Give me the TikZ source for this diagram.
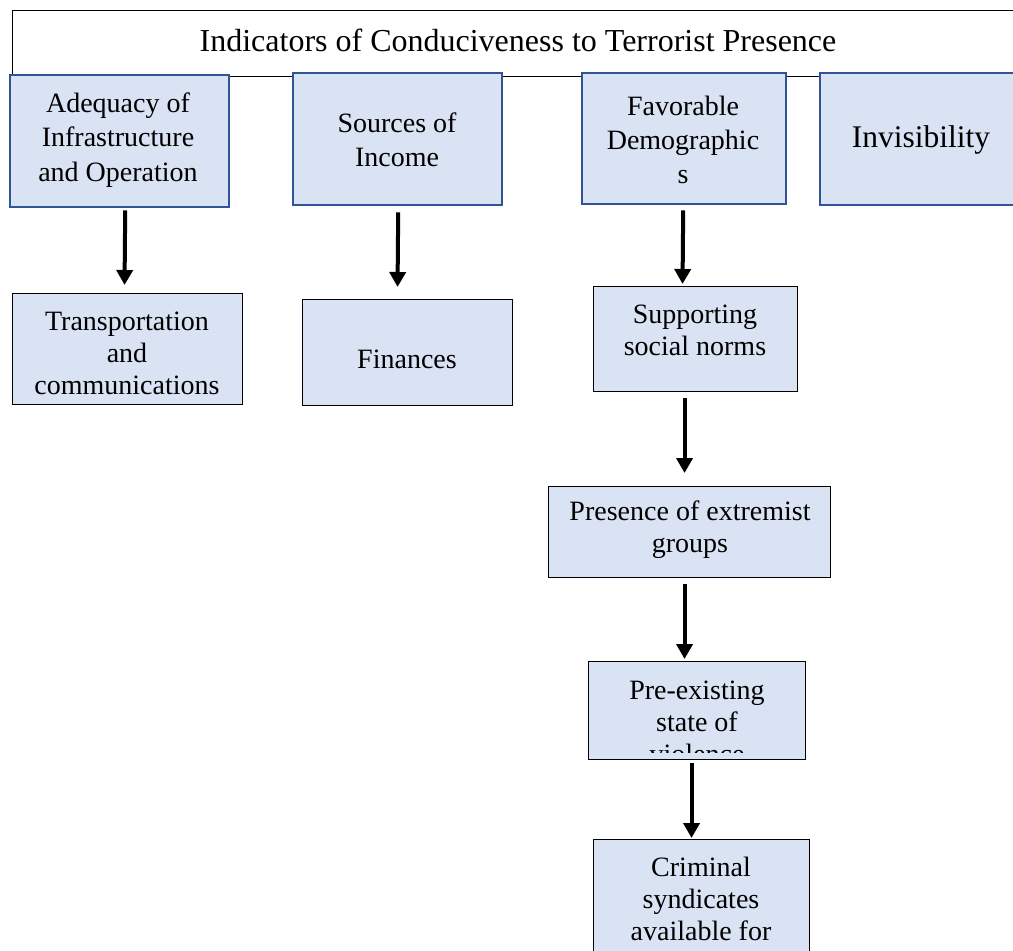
\documentclass[tikz,border=0pt]{standalone}
\usepackage{fontspec}
\setmainfont{Liberation Serif}
\usetikzlibrary{arrows.meta}
\definecolor{boxfill}{HTML}{DAE3F3}
\definecolor{boxblue}{HTML}{2F5597}
\tikzset{
  topbox/.style={draw=boxblue, line width=2.4pt, fill=boxfill, anchor=north west, inner sep=0pt},
  subbox/.style={draw=black, line width=1.1pt, fill=boxfill, anchor=north west, inner sep=0pt},
  txt/.style={align=center, font=\fontsize{28}{32}\selectfont, inner sep=0pt},
  toptxt/.style={txt, font=\fontsize{28}{34.2}\selectfont},
  arr/.style={line width=4pt, -{Triangle[width=16pt,length=15pt]}},
}
\newcommand{\bx}[6]{% style, name, x, y, width, height
  \node[#1, minimum width=#5pt, minimum height=#6pt] (#2) at (#3,#4) {};}
\begin{document}
\begin{tikzpicture}[x=1pt,y=-1pt]
\clip (0,0) rectangle (1013,951);
\fill[white] (0,0) rectangle (1013,951);

% title bar
\node[draw=black, line width=1.1pt, anchor=north west, minimum width=1030pt, minimum height=66pt, inner sep=0pt] (title) at (12,10) {};
\node[txt, font=\fontsize{32}{38}\selectfont] (titletext) at (518,40) {Indicators of Conduciveness to Terrorist Presence};

% indicator boxes
\bx{topbox}{A}{9}{74}{219}{132}
\bx{topbox}{B}{292}{72}{209}{132}
\bx{topbox}{C}{581}{72}{204}{131}
\bx{topbox}{D}{819}{72}{230}{132}
\node[toptxt] (At) at (118,140) {Adequacy of\\Infrastructure\\and Operation};
\node[toptxt] (Bt) at (397,140) {Sources of\\Income};
\node[toptxt] (Ct) at (683,140) {Favorable\\Demographic\\s};
\node[txt, font=\fontsize{31.5}{36}\selectfont] (Dt) at (921,140) {Invisibility};

% sub-indicator boxes
\bx{subbox}{T}{12}{293}{230}{111}
\bx{subbox}{F}{302}{299}{210}{106}
\bx{subbox}{S}{593}{286}{204}{105}
\bx{subbox}{P}{548}{486}{282}{91}
\bx{subbox}{V}{588}{661}{217}{98}
\bx{subbox}{K}{593}{839}{216}{140}
\node[txt] (Tt) at (127,353) {Transportation\\and\\communications};
\node[txt] (Ft) at (407,359) {Finances};
\node[txt] (St) at (695,330) {Supporting\\social norms};
\node[txt] (Pt) at (690,530) {Presence of extremist\\groups};
\begin{scope}
  \clip (589,662) rectangle (804,752);
  \node[txt, anchor=north] (Vt) at (697,681) {Pre-existing\\state of\\violence};
\end{scope}
\node[txt, anchor=north] (Kt) at (701,857) {Criminal\\syndicates\\available for};

% arrows
\draw[arr] ([xshift=5.5pt,yshift=-2pt]A.south) -- ([xshift=-3pt,yshift=8pt]T.north);
\draw[arr] ([xshift=0.5pt,yshift=-6pt]B.south) -- ([xshift=-10pt,yshift=12pt]F.north);
\draw[arr] ([xshift=-1pt,yshift=-5pt]C.south) -- ([xshift=-13pt,yshift=2pt]S.north);
\draw[arr] ([xshift=-11pt,yshift=-6pt]S.south) -- ([xshift=-5pt,yshift=13pt]P.north);
\draw[arr] ([xshift=-5pt,yshift=-6pt]P.south) -- ([xshift=-12.5pt,yshift=2pt]V.north);
\draw[arr] ([xshift=-5.5pt,yshift=-3pt]V.south) -- ([xshift=-10pt,yshift=1pt]K.north);
\end{tikzpicture}
\end{document}
